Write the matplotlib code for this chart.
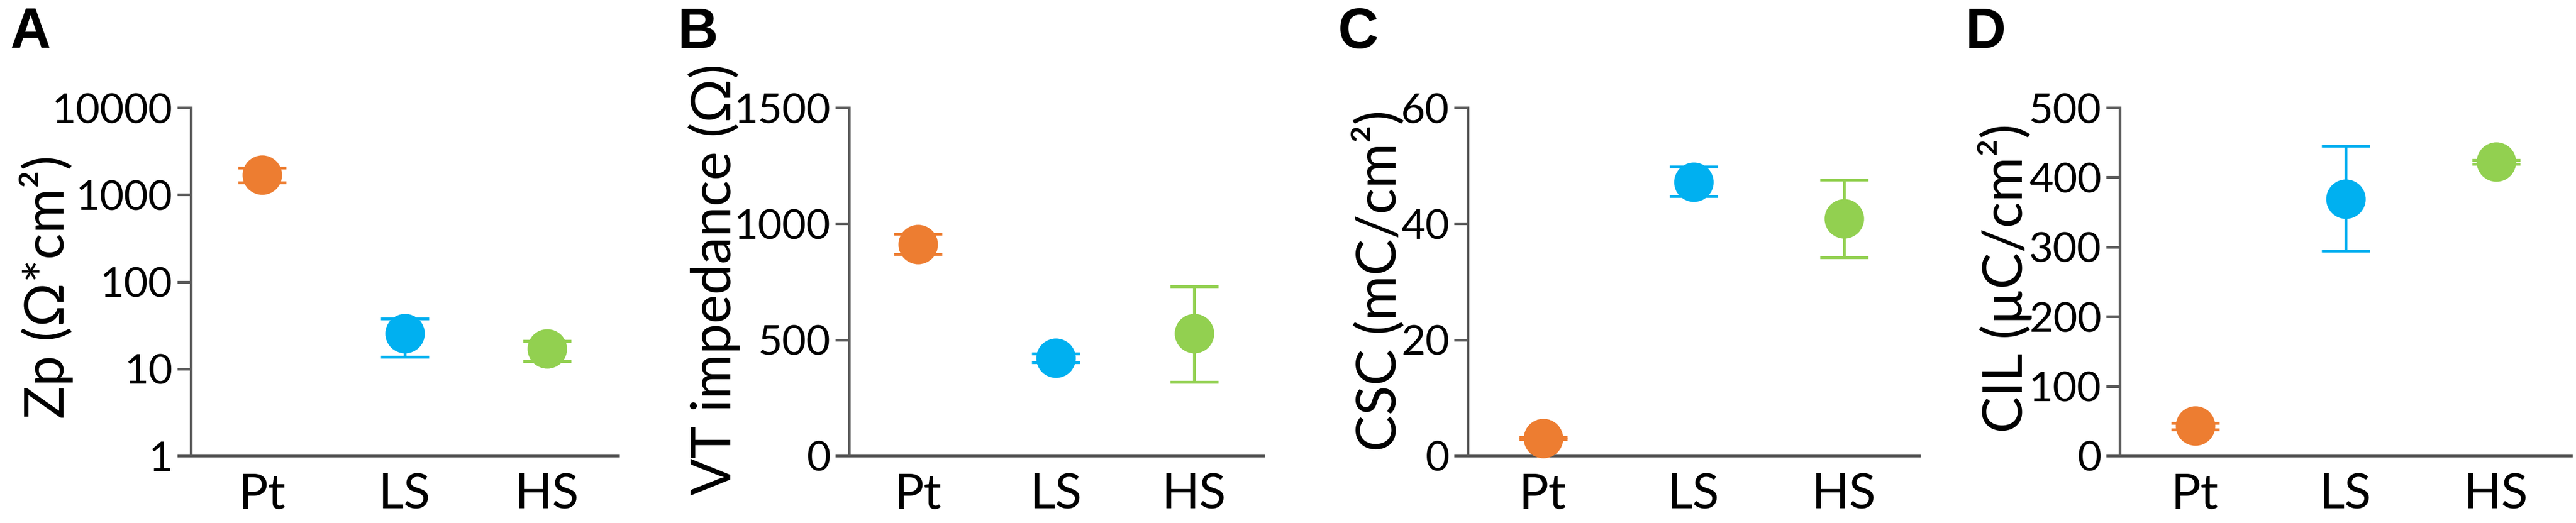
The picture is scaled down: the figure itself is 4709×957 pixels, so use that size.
import matplotlib
matplotlib.use("Agg")
import numpy as np
import matplotlib.pyplot as plt

groups = ["Pt", "LS", "HS"]
colors = ["#ED7D31", "#00B0F0", "#92D050"]

# panel A: Zp (log scale)
zp_mean = [1700, 25.5, 17]
zp_lo = [1380, 13.7, 12.2]
zp_hi = [2050, 37.6, 20.8]

# panel B: VT impedance
vt_mean = [911, 421, 527]
vt_lo = [868, 403, 317]
vt_hi = [955, 440, 730]

# panel C: CSC
csc_mean = [3.0, 47.2, 40.9]
csc_lo = [2.8, 44.7, 34.2]
csc_hi = [3.2, 49.8, 47.6]

# panel D: CIL
cil_mean = [43, 369, 422]
cil_lo = [38, 294, 419]
cil_hi = [47, 445, 425]

W, H = 4709, 957
fig = plt.figure(figsize=(W / 100, H / 100), dpi=100)

spine_col = "#595959"
font = ["Lato", "DejaVu Sans"]

panels = [
    dict(rect=(349, 781), mean=zp_mean, lo=zp_lo, hi=zp_hi, log=True,
         yticks=[1, 10, 100, 1000, 10000], ylim=(1, 10000),
         ylabel="Zp (Ω*cm²)", lab_xy=(85, 525), letter="A", let_x=18),
    dict(rect=(1552, 757), mean=vt_mean, lo=vt_lo, hi=vt_hi, log=False,
         yticks=[0, 500, 1000, 1500], ylim=(0, 1500),
         ylabel="VT impedance (Ω)", lab_xy=(1305, 511), letter="B", let_x=1238),
    dict(rect=(2683, 825), mean=csc_mean, lo=csc_lo, hi=csc_hi, log=False,
         yticks=[0, 20, 40, 60], ylim=(0, 60),
         ylabel="CSC (mC/cm²)", lab_xy=(2520, 514), letter="C", let_x=2446),
    dict(rect=(3875, 825), mean=cil_mean, lo=cil_lo, hi=cil_hi, log=False,
         yticks=[0, 100, 200, 300, 400, 500], ylim=(0, 500),
         ylabel="CIL (µC/cm²)", lab_xy=(3665, 509), letter="D", let_x=3592),
]

top_px, bot_px = 197, 834

for p in panels:
    left, width = p["rect"]
    ax = fig.add_axes([left / W, 1 - bot_px / H, width / W, (bot_px - top_px) / H])
    x = np.arange(len(groups))
    for i in range(len(groups)):
        m = p["mean"][i]
        yerr = [[m - p["lo"][i]], [p["hi"][i] - m]]
        ax.errorbar([x[i]], [m], yerr=yerr, fmt="none", ecolor=colors[i],
                    elinewidth=3.8, capsize=32, capthick=3.8, zorder=2,
                    clip_on=False)
        ax.plot([x[i]], [m], "o", color=colors[i], markersize=52,
                markeredgewidth=0, zorder=3, clip_on=False)
    if p["log"]:
        ax.set_yscale("log")
    ax.set_ylim(*p["ylim"])
    ax.set_yticks(p["yticks"])
    ax.set_yticklabels([str(t) for t in p["yticks"]])
    ax.minorticks_off()
    ax.set_xlim(-0.5, 2.5)
    ax.set_xticks(x)
    ax.set_xticklabels(groups)
    for s in ["top", "right"]:
        ax.spines[s].set_visible(False)
    for s in ["left", "bottom"]:
        ax.spines[s].set_color(spine_col)
        ax.spines[s].set_linewidth(3.6)
    ax.tick_params(axis="y", length=18, width=3.6, color=spine_col, pad=6,
                   labelsize=55)
    ax.tick_params(axis="x", length=0, pad=22, labelsize=65)
    for lab in ax.get_yticklabels() + ax.get_xticklabels():
        lab.set_family(font)
    fig.text(p["lab_xy"][0] / W, 1 - p["lab_xy"][1] / H, p["ylabel"],
             rotation=90, ha="center", va="center", fontsize=72, family=font)
    fig.text(p["let_x"] / W, 1 - 13 / H, p["letter"], ha="left", va="top",
             fontsize=74, fontweight="bold", family="Liberation Sans")

fig.savefig("out.png", dpi=100)
